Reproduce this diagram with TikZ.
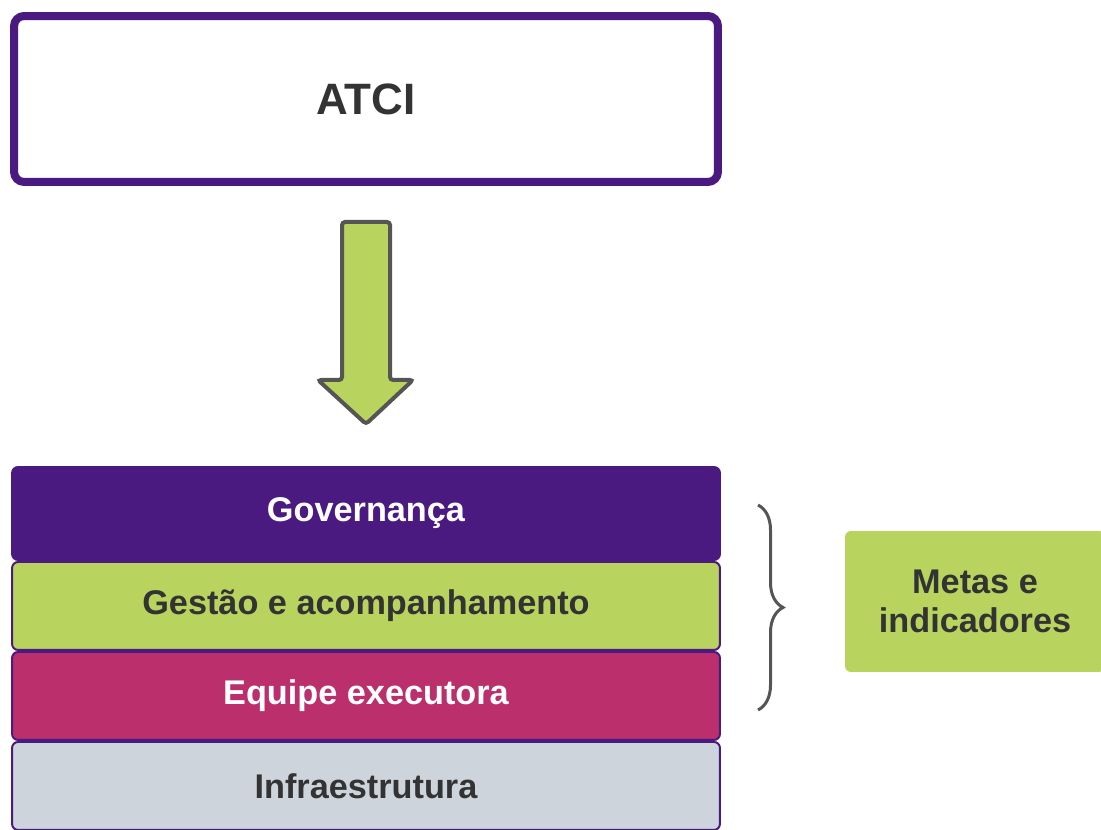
\documentclass[tikz,border=0pt]{standalone}
\usepackage{fontspec}
\setmainfont{Liberation Sans}
\usetikzlibrary{positioning,decorations.pathreplacing}
\definecolor{roxo}{HTML}{4B1A80}
\definecolor{verde}{HTML}{B8D35E}
\definecolor{rosa}{HTML}{BB306C}
\definecolor{cinza}{HTML}{CDD4DC}
\definecolor{escuro}{HTML}{333333}
\definecolor{traco}{HTML}{555555}
\tikzset{
  atcibox/.style={rectangle, rounded corners=2mm, draw=roxo, line width=1.6mm, fill=white, minimum width=140.8mm, minimum height=33.2mm, font=\bfseries\fontsize{25}{30}\selectfont, text=escuro},
  camada/.style={rectangle, rounded corners=1.2mm, draw=roxo, line width=0.4mm, minimum width=141.6mm, minimum height=17.6mm, font=\bfseries\fontsize{19.5}{23}\selectfont},
  seta/.style={draw=traco, line width=0.8mm, fill=verde, rounded corners=0.6mm},
  chave/.style={draw=traco, line width=0.6mm, decorate, decoration={brace, amplitude=5mm}},
  metasbox/.style={rectangle, rounded corners=1.2mm, fill=verde, minimum width=52mm, minimum height=28.2mm, align=center, text=escuro, font=\bfseries\fontsize{19.5}{22.5}\selectfont}
}
\begin{document}
\begin{tikzpicture}[x=0.02cm, y=-0.02cm]
\useasboundingbox (0,0) rectangle (1101,830);
\node[atcibox] (atci) at (366,99) {ATCI};
\draw[seta] (342,222) -- (342,380) -- (318,380) -- (366,424) -- (413,380) -- (390,380) -- (390,222) -- cycle;
\node[camada, fill=roxo, text=white, minimum height=18.6mm] (gov) at (366,513.5) {Governança};
\node[camada, fill=verde, text=escuro, below=0mm of gov] (gestao) {Gestão e acompanhamento};
\node[camada, fill=rosa, text=white, below=0mm of gestao] (equipe) {Equipe executora};
\node[camada, fill=cinza, text=escuro, below=0mm of equipe] (infra) {Infraestrutura};
\coordinate (chaveA) at (758,505);
\coordinate (chaveB) at (758,710);
\draw[chave] (chaveA) -- (chaveB);
\node[metasbox] (metas) at (975,601.5) {Metas e\\indicadores};
\end{tikzpicture}
\end{document}
